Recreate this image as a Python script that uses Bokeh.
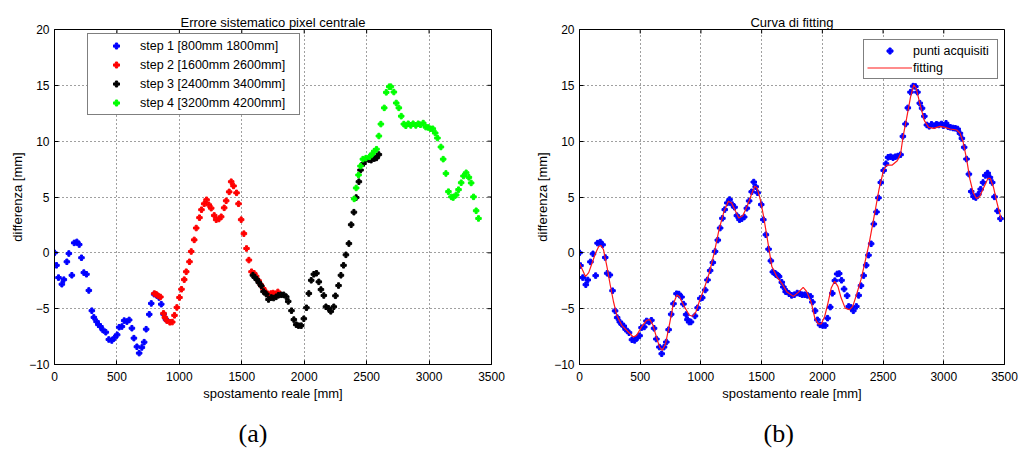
import math

from bokeh.plotting import figure
from bokeh.layouts import row
from bokeh.models import Legend, LegendItem, Range1d, Title, FixedTicker
from bokeh.embed import file_html
from bokeh.resources import INLINE

# ---------------- data ----------------
x_ticks = [0, 500, 1000, 1500, 2000, 2500, 3000, 3500]
y_ticks = [-10, -5, 0, 5, 10, 15, 20]

step_labels = ["step 1 [800mm 1800mm]", "step 2 [1600mm 2600mm]",
               "step 3 [2400mm 3400mm]", "step 4 [3200mm 4200mm]"]

step1_x = [0, 16, 32, 59, 75, 99, 115, 139, 158, 179,
           198, 216, 235, 256, 275, 299, 315, 337, 352, 368,
           387, 411, 435, 459, 481, 502, 518, 540, 558, 580,
           598, 620, 636, 660, 678, 700, 718, 734, 759, 775,
           798, 818, 837, 855, 874, 892]
step1_y = [0, -1.12, -2.22, -2.81, -2.4, -0.8, -0.06, -2.01, 0.89, 0.98,
           0.74, -0.44, -1.77, -1.92, -3.37, -5.18, -5.78, -6.16, -6.43, -6.6,
           -6.9, -7.11, -7.76, -7.85, -7.61, -7.34, -6.66, -6.6, -6.07, -6.16,
           -6.01, -6.75, -7.64, -8.41, -8.98, -8.47, -8.0, -6.84, -5.51, -4.53,
           -3.7, -3.8, -4.0, -4.6, -5.5, -5.95]

step2_x = [800, 815, 830, 848, 873, 884, 900, 924, 943, 961,
           980, 1001, 1017, 1039, 1055, 1081, 1095, 1119, 1135, 1161,
           1177, 1199, 1218, 1236, 1255, 1279, 1295, 1317, 1335, 1359,
           1375, 1399, 1415, 1434, 1458, 1474, 1495, 1517, 1538, 1557,
           1578, 1599, 1615, 1635, 1652, 1672, 1692, 1712, 1733, 1751,
           1770, 1789]
step2_y = [-3.65, -3.72, -3.85, -3.95, -5.42, -5.78, -6.07, -6.22, -6.2, -5.6,
           -4.89, -4.0, -3.26, -2.4, -1.69, -0.8, 0.12, 1.16, 2.22, 3.15,
           3.86, 4.39, 4.75, 4.3, 4.0, 3.35, 2.97, 3.03, 3.23, 4.03,
           4.66, 5.46, 6.37, 5.99, 5.37, 4.39, 2.97, 1.72, 0.39, -0.65,
           -1.69, -1.84, -2.1, -2.5, -2.86, -3.2, -3.5, -3.75, -3.65, -3.6,
           -3.7, -3.5]

step3_x = [1589, 1605, 1621, 1637, 1656, 1674, 1696, 1714, 1736, 1755,
           1775, 1794, 1816, 1836, 1856, 1872, 1898, 1917, 1936, 1954,
           1976, 1997, 2018, 2037, 2056, 2077, 2098, 2117, 2134, 2157,
           2174, 2194, 2213, 2237, 2250, 2275, 2294, 2315, 2334, 2358,
           2376, 2398, 2416, 2438, 2451, 2475, 2497, 2518, 2536, 2561,
           2579, 2598]
step3_y = [-2.0, -2.2, -2.4, -2.67, -2.96, -3.47, -3.7, -4.18, -4.0, -4.05,
           -3.94, -3.8, -3.76, -3.76, -3.94, -4.35, -5.18, -5.98, -6.43, -6.52,
           -6.52, -5.9, -4.92, -3.64, -2.46, -1.92, -1.83, -2.6, -3.29, -3.82,
           -4.83, -4.97, -5.24, -4.83, -3.85, -2.93, -2.01, -1.12, -0.18, 0.83,
           2.52, 3.64, 4.95, 6.37, 7.41, 8.0, 8.39, 8.35, 8.3, 8.44,
           8.5, 8.8]

step4_x = [2400, 2416, 2435, 2451, 2470, 2494, 2523, 2545, 2561, 2579,
           2598, 2614, 2641, 2657, 2681, 2694, 2718, 2737, 2758, 2777,
           2798, 2814, 2833, 2854, 2872, 2894, 2913, 2931, 2953, 2974,
           2993, 3011, 3030, 3049, 3067, 3095, 3113, 3135, 3155, 3179,
           3193, 3217, 3236, 3257, 3276, 3297, 3319, 3337, 3356, 3377,
           3396]
step4_y = [4.83, 5.81, 6.97, 7.77, 8.39, 8.48, 8.6, 8.86, 9.1, 9.28,
           10.46, 11.53, 12.98, 14.37, 14.88, 14.88, 14.4, 13.42, 12.98, 12.24,
           11.53, 11.38, 11.56, 11.41, 11.56, 11.41, 11.56, 11.47, 11.62, 11.26,
           11.23, 11.11, 11.11, 10.73, 10.28, 9.48, 8.39, 7.11, 5.48, 5.01,
           4.95, 5.19, 5.66, 6.28, 6.88, 7.17, 6.76, 6.26, 5.01, 3.77,
           3.08]

# acquired points after merging the four steps
acq_x = [0, 8, 27, 52, 68, 90, 111, 133, 149, 171,
         190, 212, 228, 250, 272, 293, 310, 332, 348, 364,
         380, 408, 432, 454, 476, 495, 511, 533, 552, 573,
         592, 614, 633, 658, 677, 696, 715, 734, 755, 774,
         799, 818, 840, 856, 878, 889, 903, 918, 951, 973,
         995, 1011, 1035, 1054, 1076, 1098, 1117, 1139, 1158, 1177,
         1196, 1217, 1236, 1258, 1277, 1296, 1318, 1337, 1356, 1378,
         1397, 1418, 1435, 1451, 1467, 1497, 1514, 1535, 1557, 1576,
         1592, 1611, 1618, 1628, 1636, 1644, 1666, 1679, 1698, 1704,
         1726, 1747, 1769, 1793, 1815, 1834, 1856, 1878, 1902, 1918,
         1940, 1959, 1981, 2003, 2024, 2043, 2065, 2082, 2103, 2122,
         2139, 2158, 2179, 2204, 2217, 2236, 2255, 2280, 2299, 2318,
         2340, 2361, 2380, 2402, 2424, 2446, 2462, 2481, 2505, 2524,
         2541, 2562, 2582, 2601, 2622, 2644, 2663, 2685, 2704, 2726,
         2747, 2766, 2783, 2802, 2821, 2840, 2861, 2880, 2899, 2921,
         2940, 2959, 2981, 2997, 3019, 3035, 3054, 3076, 3095, 3114,
         3133, 3149, 3168, 3187, 3207, 3226, 3245, 3264, 3285, 3304,
         3323, 3342, 3361, 3380, 3399, 3418, 3443, 3467]
acq_y = [0, -1.14, -2.22, -2.85, -2.43, -0.81, -0.09, -2.04, 0.87, 0.96,
         0.72, -0.42, -1.83, -1.98, -3.39, -5.2, -5.8, -6.19, -6.4, -6.55,
         -6.85, -7.15, -7.78, -7.84, -7.6, -7.42, -6.7, -6.64, -6.1, -6.19,
         -6.04, -6.76, -7.72, -8.44, -9.04, -8.44, -7.99, -6.88, -5.5, -4.56,
         -3.66, -3.69, -3.96, -4.59, -5.53, -5.98, -6.2, -6.19, -5.65, -4.92,
         -4.08, -4.02, -3.33, -2.43, -1.59, -0.87, 0.12, 1.14, 2.22, 3.09,
         3.87, 4.47, 4.77, 4.32, 4.08, 3.33, 2.97, 3.06, 3.21, 3.99,
         4.65, 5.47, 6.34, 5.92, 5.38, 4.32, 2.97, 1.62, 0.33, -0.72,
         -1.71, -1.83, -1.95, -1.98, -2.05, -2.13, -2.64, -3.06, -3.48, -3.45,
         -3.66, -3.81, -3.75, -3.6, -3.66, -3.75, -3.75, -3.81, -3.9, -4.41,
         -5.19, -6.0, -6.45, -6.51, -6.51, -5.85, -4.86, -3.63, -2.49, -1.89,
         -1.86, -2.46, -3.24, -3.84, -4.8, -4.89, -5.19, -4.8, -3.81, -2.94,
         -2.04, -1.11, -0.21, 0.81, 2.58, 3.66, 4.92, 6.3, 7.38, 7.98,
         8.55, 8.61, 8.52, 8.61, 8.67, 8.79, 10.43, 11.54, 12.98, 14.39,
         14.93, 14.9, 14.39, 13.4, 12.95, 12.23, 11.45, 11.33, 11.51, 11.39,
         11.51, 11.45, 11.54, 11.39, 11.6, 11.3, 11.24, 11.18, 11.15, 11.09,
         10.7, 10.25, 9.45, 8.4, 7.05, 5.49, 5.04, 4.95, 5.25, 5.7,
         6.3, 6.93, 7.14, 6.75, 6.3, 5.01, 3.75, 3.06]

# fitted curve
fit_x = [0, 49, 76, 103, 130, 158, 177, 198, 226, 253,
         280, 307, 348, 402, 443, 470, 511, 552, 579, 606,
         633, 660, 682, 709, 742, 774, 802, 823, 864, 905,
         932, 959, 986, 1027, 1068, 1109, 1149, 1190, 1226, 1253,
         1285, 1312, 1345, 1380, 1416, 1443, 1462, 1489, 1516, 1557,
         1584, 1625, 1666, 1707, 1761, 1802, 1842, 1870, 1910, 1938,
         1965, 1992, 2019, 2046, 2073, 2101, 2128, 2155, 2188, 2223,
         2250, 2277, 2318, 2359, 2386, 2427, 2467, 2503, 2530, 2576,
         2617, 2644, 2666, 2693, 2726, 2753, 2774, 2807, 2840, 2875,
         2916, 2970, 3011, 3052, 3106, 3133, 3160, 3188, 3215, 3242,
         3269, 3296, 3329, 3364, 3383, 3410, 3438, 3473]
fit_y = [-0.93, -2.13, -1.77, -0.93, -0.09, 0.57, 0.66, 0.27, -1.23, -2.88,
         -4.38, -5.58, -6.49, -7.09, -7.54, -7.39, -6.64, -6.04, -5.98, -6.49,
         -7.54, -8.44, -8.74, -8.14, -6.34, -4.53, -3.78, -3.93, -4.83, -5.59,
         -5.68, -5.28, -4.38, -3.18, -1.83, -0.03, 2.07, 3.72, 4.62, 4.47,
         3.72, 3.12, 3.33, 4.17, 5.22, 5.97, 5.83, 4.77, 3.27, 0.57,
         -1.23, -2.13, -2.73, -3.48, -3.9, -3.54, -3.09, -3.45, -4.5, -5.85,
         -6.36, -6.36, -5.7, -4.5, -3.15, -2.55, -3.0, -4.05, -4.95, -5.1,
         -4.8, -3.9, -2.4, -0.45, 0.9, 3.3, 5.7, 7.35, 7.86, 7.86,
         8.25, 8.85, 10.49, 11.99, 13.94, 15.05, 14.69, 13.19, 11.84, 11.24,
         11.15, 11.33, 11.24, 11.09, 11.0, 10.73, 9.9, 8.4, 6.6, 5.4,
         4.86, 5.04, 5.85, 6.66, 6.66, 5.85, 4.5, 3.0]

FONT = "Liberation Sans"
SERIF = "Liberation Serif"
X_MAX = x_ticks[-1]
Y_MAX = y_ticks[-1]


def make_panel(title, caption, width, left, right, top, bottom):
    p = figure(width=width, height=460,
               x_range=Range1d(x_ticks[0], X_MAX), y_range=Range1d(y_ticks[0], Y_MAX),
               output_backend="svg", toolbar_location=None,
               min_border_left=left, min_border_right=right,
               min_border_top=top, min_border_bottom=bottom,
               background_fill_color="white", border_fill_color="white",
               outline_line_color="black", outline_line_width=1)
    p.title.text = title
    p.title.align = "center"
    p.title.text_font = FONT
    p.title.text_font_size = "13px"
    p.title.text_font_style = "normal"
    p.title.text_color = "black"
    p.title.standoff = 0

    p.xaxis.ticker = FixedTicker(ticks=x_ticks)
    p.yaxis.ticker = FixedTicker(ticks=y_ticks)
    for ax in p.xaxis + p.yaxis:
        ax.major_tick_in = 4
        ax.major_tick_out = 0
        ax.minor_tick_in = 0
        ax.minor_tick_out = 0
        ax.axis_line_color = "black"
        ax.major_tick_line_color = "black"
        ax.major_label_text_font = FONT
        ax.major_label_text_font_size = "12px"
        ax.major_label_text_color = "black"
        ax.major_label_standoff = 5
        ax.axis_label_text_font = FONT
        ax.axis_label_text_font_size = "13px"
        ax.axis_label_text_font_style = "normal"
        ax.axis_label_text_color = "black"
        ax.axis_label_standoff = 4
    p.below[0].axis_label = "spostamento reale [mm]"
    p.below[0].major_label_standoff = 7
    p.below[0].axis_label_standoff = 2
    p.left[0].axis_label = "differenza [mm]"
    p.left[0].axis_label_standoff = 1

    # inward tick marks on the top and right edges of the box
    p.ray(x=x_ticks, y=[Y_MAX] * len(x_ticks), length=4, length_units="screen",
          angle=-math.pi / 2, line_color="black", line_width=1)
    p.ray(x=[X_MAX] * len(y_ticks), y=y_ticks, length=4, length_units="screen",
          angle=math.pi, line_color="black", line_width=1)

    p.xgrid.ticker = FixedTicker(ticks=x_ticks)
    p.ygrid.ticker = FixedTicker(ticks=y_ticks)
    p.grid.grid_line_color = "black"
    p.grid.grid_line_alpha = 0.75
    p.grid.grid_line_dash = "1 3"
    p.grid.grid_line_width = 1

    p.add_layout(Title(text=caption, align="left", offset=184, text_font=SERIF,
                       text_font_size="26px", text_font_style="normal",
                       text_line_height=1.0, text_color="black", standoff=26),
                 "below")
    return p


# (a) systematic error, one colour per acquisition step
pa = make_panel("Errore sistematico pixel centrale", "(a)", 520, 54, 29, 27, 96)
step_colors = ["#0000ff", "#ff0000", "#000000", "#00ff00"]
step_data = [(step1_x, step1_y), (step2_x, step2_y), (step3_x, step3_y), (step4_x, step4_y)]
items = []
for (sx, sy), col, lab in zip(step_data, step_colors, step_labels):
    r = pa.scatter(sx, sy, marker="plus", size=5.5, color=col)
    items.append(LegendItem(label=lab, renderers=[r]))
leg_a = Legend(items=items, location=(33, 249))
pa.add_layout(leg_a)

# (b) acquired points with the fitted curve
pb = make_panel("Curva di fitting", "(b)", 510, 59, 26, 29, 96)
r_pts = pb.scatter(acq_x, acq_y, marker="plus", size=5.5, color="#0000ff")
r_fit = pb.line(fit_x, fit_y, line_color="#ff1a1a", line_width=1.2)
leg_b = Legend(items=[LegendItem(label="punti acquisiti", renderers=[r_pts]),
                      LegendItem(label="fitting", renderers=[r_fit])],
               location=(284, 285))
pb.add_layout(leg_b)

for leg, lw in ((leg_a, 155), (leg_b, 81)):
    leg.border_line_color = "black"
    leg.border_line_width = 1
    leg.background_fill_color = "white"
    leg.background_fill_alpha = 1
    leg.padding = 4
    leg.spacing = 4
    leg.margin = 0
    leg.glyph_height = 15
    leg.label_height = 15
    leg.label_width = lw
    leg.label_text_font = FONT
    leg.label_text_font_size = "12.5px"
    leg.label_text_color = "black"
leg_a.glyph_width = 48
leg_a.label_standoff = 0
leg_b.glyph_width = 45
leg_b.label_standoff = 1
leg_b.spacing = 2
leg_b.padding = 3

layout = row(pa, pb, spacing=0)
open("out.html", "w").write(file_html(layout, INLINE))
